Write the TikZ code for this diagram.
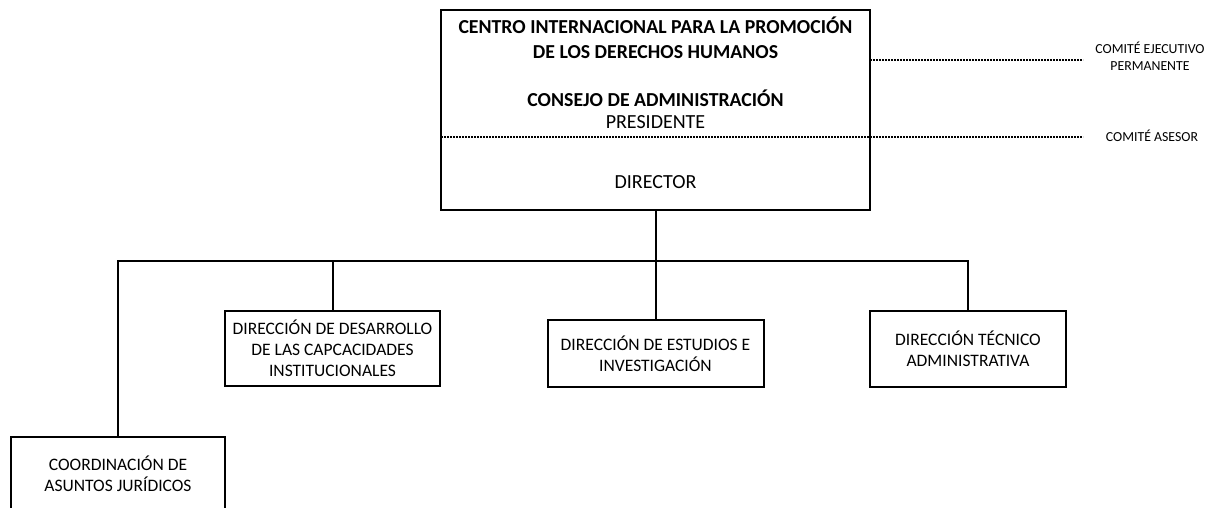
\documentclass[tikz,border=0pt]{standalone}
\usepackage{fontspec}
\setmainfont{Carlito}
\begin{document}
\begin{tikzpicture}[x=1pt,y=-1pt,
  box/.style={draw=black,line width=2pt,inner sep=0pt,minimum width=#1},
  lbl/.style={align=center,inner sep=0pt,font=\fontsize{17.5}{21}\selectfont},
  side/.style={align=center,inner sep=0pt,font=\fontsize{13.8}{17}\selectfont},
  conn/.style={line width=2pt},
  dsh/.style={line width=1.1pt,dash pattern=on 2.2pt off 0.8pt}]
\useasboundingbox (0,0) rectangle (1220,507);
% main box
\node[box=429pt,minimum height=200pt] (main) at (655.5,110) {};
\node[align=center,inner sep=0pt,font=\bfseries\fontsize{19.8}{25}\selectfont] (title) at (655.5,37.5) {CENTRO INTERNACIONAL PARA LA PROMOCIÓN\\DE LOS DERECHOS HUMANOS};
\node[inner sep=0pt,font=\bfseries\fontsize{19.8}{22}\selectfont] (consejo) at (655.5,98) {CONSEJO DE ADMINISTRACIÓN};
\node[inner sep=0pt,font=\fontsize{20}{22}\selectfont] (pres) at (655.5,122) {PRESIDENTE};
\node[inner sep=0pt,font=\fontsize{20}{22}\selectfont] (dir) at (655.5,182) {DIRECTOR};
% side committees
\coordinate (d1s) at (870,60);
\coordinate (d1e) at (1083,60);
\coordinate (d2s) at (441,137);
\coordinate (d2e) at (1083,137);
\draw[dsh] (d1s) -- (d1e);
\draw[dsh] (d2s) -- (d2e);
\node[side] (cep) at (1150,56) {COMITÉ EJECUTIVO\\PERMANENTE};
\node[side] (ca) at (1152,136) {COMITÉ ASESOR};
% sub boxes
\node[box=215pt,minimum height=75pt,lbl] (des) at (332.5,348.5) {DIRECCIÓN DE DESARROLLO\\DE LAS CAPCACIDADES\\INSTITUCIONALES};
\node[box=216pt,minimum height=67pt,lbl] (est) at (655.5,353.5) {DIRECCIÓN DE ESTUDIOS E\\INVESTIGACIÓN};
\node[box=196pt,minimum height=76pt,lbl] (tec) at (968,349) {DIRECCIÓN TÉCNICO\\ADMINISTRATIVA};
\node[box=214pt,minimum height=100pt] (coo) at (118,487) {};
\node[lbl] (cootxt) at (118,473.5) {COORDINACIÓN DE\\ASUNTOS JURÍDICOS};
% connectors
\coordinate (bus) at (655.5,261);
\draw[conn] (main.south) -- (bus);
\draw[conn] (coo.north) |- (bus -| tec.north) -- (tec.north);
\draw[conn] (bus -| des.north) -- (des.north);
\draw[conn] (bus) -- (est.north);
\end{tikzpicture}
\end{document}
